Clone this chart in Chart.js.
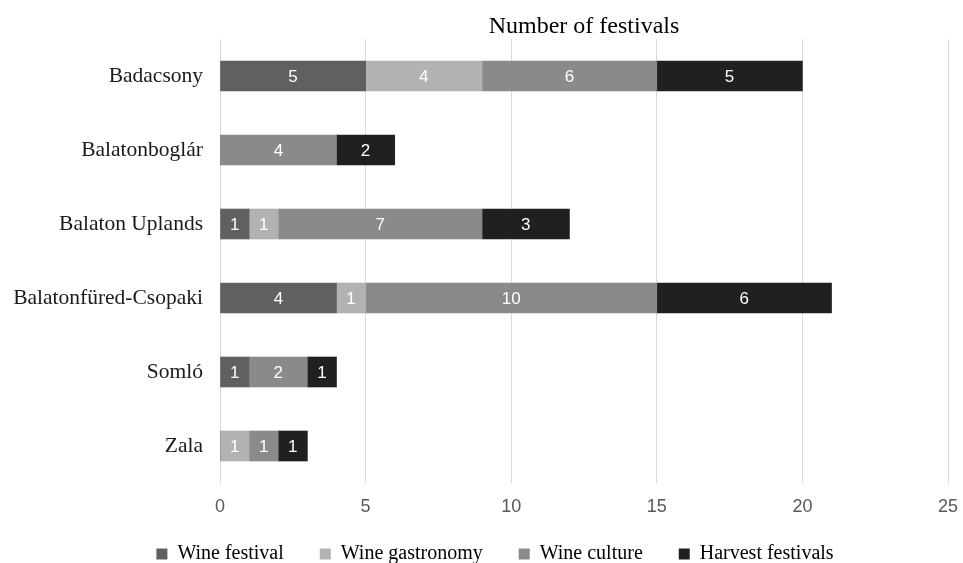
<!DOCTYPE html>
<html>
<head>
<meta charset="utf-8">
<script src="https://cdn.jsdelivr.net/npm/chart.js@4"></script>
<style>
  html, body { margin: 0; padding: 0; background: #fff; }
  #wrap { width: 963px; height: 563px; }
</style>
</head>
<body>
<div id="wrap"><canvas id="chart" width="963" height="563"></canvas></div>
<script>
// Регионы и значения по типам фестивалей
const regions = ['Badacsony', 'Balatonboglár', 'Balaton Uplands', 'Balatonfüred-Csopaki', 'Somló', 'Zala'];
const wineFestival = [5, 0, 1, 4, 1, 0];
const wineGastronomy = [4, 0, 1, 1, 0, 1];
const wineCulture = [6, 4, 7, 10, 2, 1];
const harvestFestivals = [5, 2, 3, 6, 1, 1];
const xTicks = [0, 5, 10, 15, 20, 25];

const serif = '"Liberation Serif", "Times New Roman", serif';
const sans = '"Liberation Sans", Arial, sans-serif';

// Подписи значений внутри сегментов
const valueLabels = {
  id: 'valueLabels',
  afterDatasetsDraw(chart) {
    const ctx = chart.ctx;
    ctx.save();
    ctx.font = '17px ' + sans;
    ctx.fillStyle = '#ffffff';
    ctx.textAlign = 'center';
    ctx.textBaseline = 'middle';
    chart.data.datasets.forEach((ds, i) => {
      const meta = chart.getDatasetMeta(i);
      meta.data.forEach((bar, j) => {
        const v = ds.data[j];
        if (!v) return;
        const p = bar.getProps(['x', 'y', 'base'], true);
        ctx.fillText(String(v), (p.x + p.base) / 2, p.y + 1);
      });
    });
    ctx.restore();
  }
};

// Сдвиг легенды, как в оригинале (низ блока оставляем на месте)
const legendShift = {
  id: 'legendShift',
  afterLayout(chart) {
    const lg = chart.legend;
    if (!lg) return;
    lg.top -= 13; lg.height += 13;
    lg.left += 21; lg.right += 21;
  }
};

function makeSet(label, data, color) {
  return { label: label, data: data, backgroundColor: color, borderWidth: 0, barThickness: 30 };
}

new Chart(document.getElementById('chart'), {
  type: 'bar',
  data: {
    labels: regions,
    datasets: [
      makeSet('Wine festival', wineFestival, '#606060'),
      makeSet('Wine gastronomy', wineGastronomy, '#b2b2b2'),
      makeSet('Wine culture', wineCulture, '#8a8a8a'),
      makeSet('Harvest festivals', harvestFestivals, '#202020')
    ]
  },
  options: {
    indexAxis: 'y',
    responsive: false,
    animation: false,
    layout: { padding: { left: 0, right: 15, top: 0, bottom: 0 } },
    plugins: {
      tooltip: { enabled: false },
      title: {
        display: true,
        text: 'Number of festivals',
        fullSize: false,
        color: '#000',
        font: { family: serif, size: 24, weight: 'normal', lineHeight: 1.0 },
        padding: { top: 15, bottom: 0 }
      },
      legend: {
        position: 'bottom',
        maxHeight: 42,
        labels: {
          color: '#000',
          font: { family: serif, size: 20 },
          boxWidth: 11,
          boxHeight: 11,
          padding: 36
        }
      }
    },
    scales: {
      x: {
        stacked: true,
        min: 0,
        max: 25,
        afterBuildTicks: (scale) => { scale.ticks = xTicks.map(v => ({ value: v })); },
        afterFit: (scale) => { scale.height = 38; scale.paddingRight = 0; },
        grid: { color: '#d9d9d9', drawTicks: false },
        border: { display: false },
        ticks: { color: '#595959', font: { family: sans, size: 18 }, padding: 13 }
      },
      y: {
        stacked: true,
        grid: { display: false },
        border: { display: false },
        afterFit: (scale) => { scale.width = 220; },
        ticks: { color: '#1a1a1a', font: { family: serif, size: 21.5 }, padding: 9 }
      }
    }
  },
  plugins: [valueLabels, legendShift]
});
</script>
</body>
</html>
